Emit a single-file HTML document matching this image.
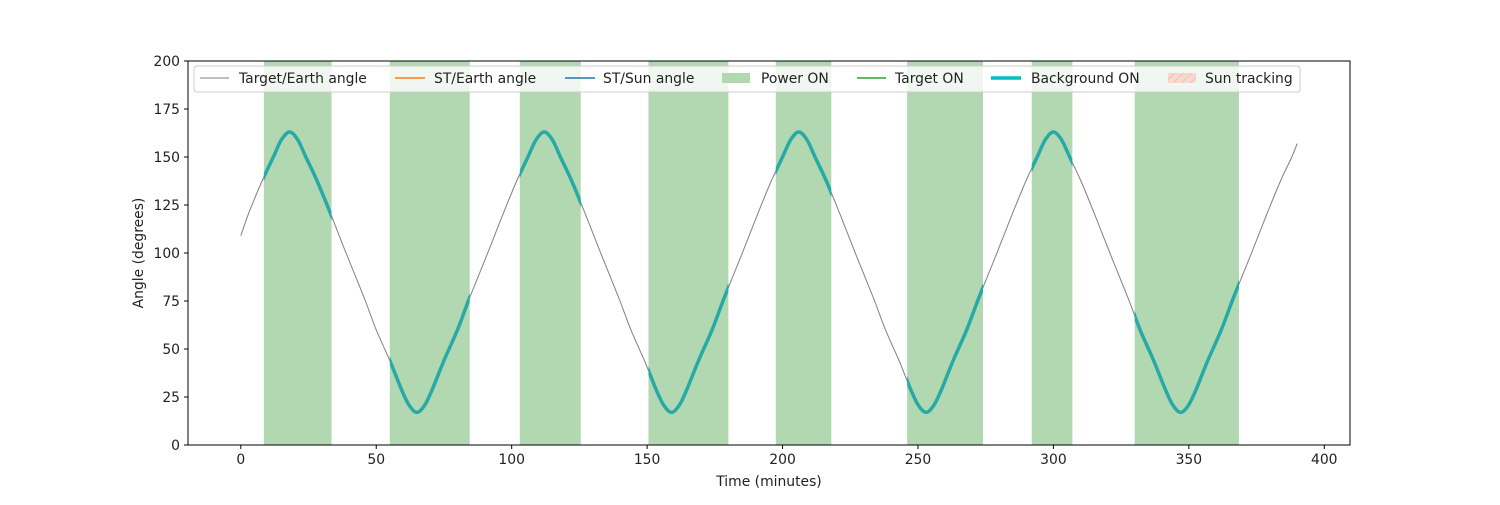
<!DOCTYPE html>
<html><head><meta charset="utf-8"><style>
body{margin:0;background:#fff}
svg text{font-family:"DejaVu Sans","Liberation Sans",sans-serif;font-size:13.9px;fill:#222}
</style></head><body>
<svg id="chart" width="1500" height="500" xmlns="http://www.w3.org/2000/svg">
<defs>
<clipPath id="plotclip"><rect x="188" y="61" width="1162" height="384"/></clipPath>
<pattern id="hatch" width="6" height="6" patternUnits="userSpaceOnUse" patternTransform="rotate(45)"><rect width="6" height="6" fill="#f8d8d0"/><line x1="0" y1="0" x2="0" y2="6" stroke="#e8a898" stroke-width="1"/></pattern>
</defs>
<g id="spans"></g>
<g id="lines" clip-path="url(#plotclip)"></g>
<rect x="188" y="61" width="1162" height="384" fill="none" stroke="#000" stroke-width="1"/>
<g id="xticks"></g>
<g id="yticks"></g>
<text x="769" y="486" text-anchor="middle">Time (minutes)</text>
<text transform="translate(143,253) rotate(-90)" text-anchor="middle">Angle (degrees)</text>
<g>
<rect x="194" y="66" width="1106" height="26" rx="3" fill="#fff" fill-opacity="0.8" stroke="#ccc"/>
<g><line x1="200" y1="78" x2="229" y2="78" stroke="#808080" stroke-width="1"/><text x="239" y="83">Target/Earth angle</text></g>
<g><line x1="395" y1="78" x2="425" y2="78" stroke="#ff7f0e" stroke-width="1.5"/><text x="434" y="83">ST/Earth angle</text></g>
<g><line x1="565" y1="78" x2="595" y2="78" stroke="#1f77b4" stroke-width="1.5"/><text x="603" y="83">ST/Sun angle</text></g>
<g><rect x="722" y="73" width="28" height="10" fill="#b2d8b2"/><text x="761" y="83">Power ON</text></g>
<g><line x1="857" y1="78" x2="886" y2="78" stroke="#2ca02c" stroke-width="1.5"/><text x="895" y="83">Target ON</text></g>
<g><line x1="991" y1="78" x2="1021" y2="78" stroke="#00bfbf" stroke-width="3.5"/><text x="1031" y="83">Background ON</text></g>
<g><rect x="1168" y="73" width="28" height="10" fill="url(#hatch)"/><text x="1205" y="83">Sun tracking</text></g>
</g>
</svg>
<script>
const times=[0,3,8,12,15,
18,21,24,28,33,38,42,46,50,55,59,62,65,68,71,75,80,84,88,92,97,102,106,109,
112,115,118,122,127,132,136,140,144,149,153,156,159,162,165,169,174,178,182,186,191,196,200,203,
206,209,212,216,221,226,230,234,238,243,247,250,253,256,259,263,268,272,276,280,285,290,294,297,
300,303,306,310,315,320,324,328,332,337,341,344,347,350,353,357,362,366,370,374,379,384,388,390];
const angles=[109,121,138,150,159,
163,159,150,138,121,103,89,75,60,44,30,21,17,21,30,44,60,75,89,103,121,138,150,159,
163,159,150,138,121,103,89,75,60,44,30,21,17,21,30,44,60,75,89,103,121,138,150,159,
163,159,150,138,121,103,89,75,60,44,30,21,17,21,30,44,60,75,89,103,121,138,150,159,
163,159,150,138,121,103,89,75,60,44,30,21,17,21,30,44,60,75,89,103,121,138,150,157];
const powerStart=[8.5,55,103,150.5,197.5,246,292,330];
const powerEnd=[33.5,84.5,125.5,180,218,274,307,368.5];
const xTicks=[0,50,100,150,200,250,300,350,400];
const yTicks=[0,25,50,75,100,125,150,175,200];
const X0=188,X1=1350,Y0=445,Y1=61,XMIN=-19.5,XMAX=409.5,YMIN=0,YMAX=200;
const sx=v=>X0+(v-XMIN)/(XMAX-XMIN)*(X1-X0);
const sy=v=>Y0-(v-YMIN)/(YMAX-YMIN)*(Y0-Y1);
const NS="http://www.w3.org/2000/svg";
const mk=(t,a,p)=>{const e=document.createElementNS(NS,t);for(const k in a)e.setAttribute(k,a[k]);p.appendChild(e);return e;};
const spans=document.getElementById('spans'),lines=document.getElementById('lines');
const defs=document.querySelector('defs');
powerStart.forEach((s,i)=>{
  const r=mk('rect',{x:sx(s),y:Y1,width:sx(powerEnd[i])-sx(s),height:Y0-Y1,fill:'#b2d8b2'},spans);
  
  
  const cp=mk('clipPath',{id:'bg'+i},defs);
  mk('rect',{x:sx(s),y:Y1,width:sx(powerEnd[i])-sx(s),height:Y0-Y1},cp);
});
// smooth path through points (Catmull-Rom -> cubic Bezier)
const P=times.map((t,i)=>[sx(t),sy(angles[i])]);
let d='M'+P[0][0].toFixed(1)+','+P[0][1].toFixed(1);
for(let i=0;i<P.length-1;i++){
  const p0=P[Math.max(0,i-1)],p1=P[i],p2=P[i+1],p3=P[Math.min(P.length-1,i+2)];
  const c1=[p1[0]+(p2[0]-p0[0])/6,p1[1]+(p2[1]-p0[1])/6];
  const c2=[p2[0]-(p3[0]-p1[0])/6,p2[1]-(p3[1]-p1[1])/6];
  d+='C'+c1[0].toFixed(1)+','+c1[1].toFixed(1)+' '+c2[0].toFixed(1)+','+c2[1].toFixed(1)+' '+p2[0].toFixed(1)+','+p2[1].toFixed(1);
}
const gl=mk('path',{d:d,fill:'none',stroke:'#808080','stroke-width':1},lines);


powerStart.forEach((s,i)=>{
  const p=mk('path',{d:d,fill:'none',stroke:'#27aaa6','stroke-width':3.5,'clip-path':'url(#bg'+i+')'},lines);
  
  
});
const xg=document.getElementById('xticks'),yg=document.getElementById('yticks');
xTicks.forEach(v=>{
  mk('line',{x1:sx(v),x2:sx(v),y1:Y0,y2:Y0+4,stroke:'#000'},xg);
  const t=mk('text',{x:sx(v),y:Y0+19,'text-anchor':'middle'},xg);t.textContent=v;
  
  
});
yTicks.forEach(v=>{
  mk('line',{x1:X0-4,x2:X0,y1:sy(v),y2:sy(v),stroke:'#000'},yg);
  const t=mk('text',{x:X0-8,y:sy(v)+5,'text-anchor':'end'},yg);t.textContent=v;
  
  
});
</script>
</body></html>
